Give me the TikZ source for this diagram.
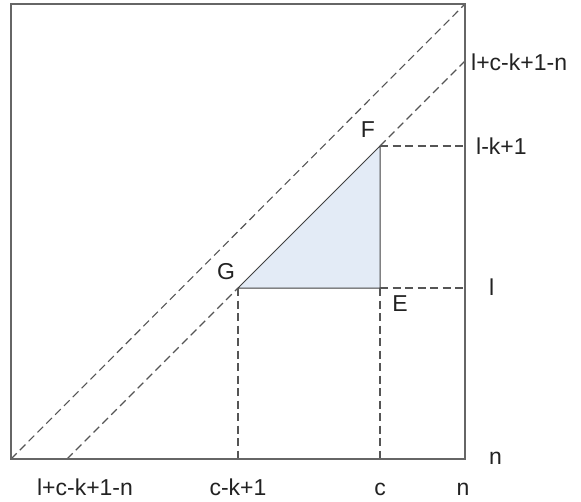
\documentclass[tikz,border=0pt]{standalone}
\usepackage{fontspec}
\setmainfont{Liberation Sans}
\definecolor{trifill}{HTML}{E3EBF6}
\definecolor{framecol}{HTML}{666666}
\definecolor{guidecol}{HTML}{555555}
\definecolor{txtcol}{HTML}{222222}
\begin{document}
\begin{tikzpicture}[x=1pt,y=-1pt,
  frame/.style={draw=framecol, line width=1.7pt},
  guide/.style={draw=guidecol, line width=1.1pt, dash pattern=on 8pt off 4.5pt},
  tri/.style={draw=black!75, line width=1pt, fill=trifill, line join=miter},
  lbl/.style={font=\fontsize{23}{27}\selectfont, text=txtcol, inner sep=0pt, anchor=base},
  rlbl/.style={lbl, anchor=base west},
]
\useasboundingbox (0,0) rectangle (581,501);
% corners
\coordinate (TL) at (11,4);
\coordinate (TR) at (465,4);
\coordinate (BR) at (465,459);
\coordinate (BL) at (11,459);
% triangle
\coordinate (G) at (238,288);
\coordinate (E) at (380,288);
\coordinate (F) at (380,146);
% second diagonal ends
\coordinate (D1) at (67,459);
\coordinate (D2) at (465,61);
% projections
\coordinate (Fr) at (465,146);
\coordinate (Er) at (465,288);
\coordinate (Gb) at (238,459);
\coordinate (Eb) at (380,459);

\filldraw[tri] (G) -- (E) -- (F) -- cycle;
\draw[guide] (BL) -- (TR);
\draw[guide] (D1) -- (G);
\draw[guide] (F) -- (D2);
\draw[guide] (F) -- (Fr);
\draw[guide] (E) -- (Er);
\draw[guide] (G) -- (Gb);
\draw[guide] (E) -- (Eb);
\draw[frame] (TL) rectangle (BR);

% point labels
\node[lbl] (lF) at (368,137) {F};
\node[lbl] (lG) at (226,279) {G};
\node[lbl] (lE) at (400,311) {E};

% right labels
\node[rlbl] (r1) at (471,70) {l+c-k+1-n};
\node[rlbl] (r2) at (476,154) {l-k+1};
\node[rlbl] (r3) at (489,295) {l};
\node[rlbl] (r4) at (489,464) {n};

% bottom labels
\node[lbl] (b1) at (85,495) {l+c-k+1-n};
\node[lbl] (b2) at (238,495) {c-k+1};
\node[lbl] (b3) at (380,495) {c};
\node[lbl] (b4) at (463,495) {n};
\end{tikzpicture}
\end{document}
